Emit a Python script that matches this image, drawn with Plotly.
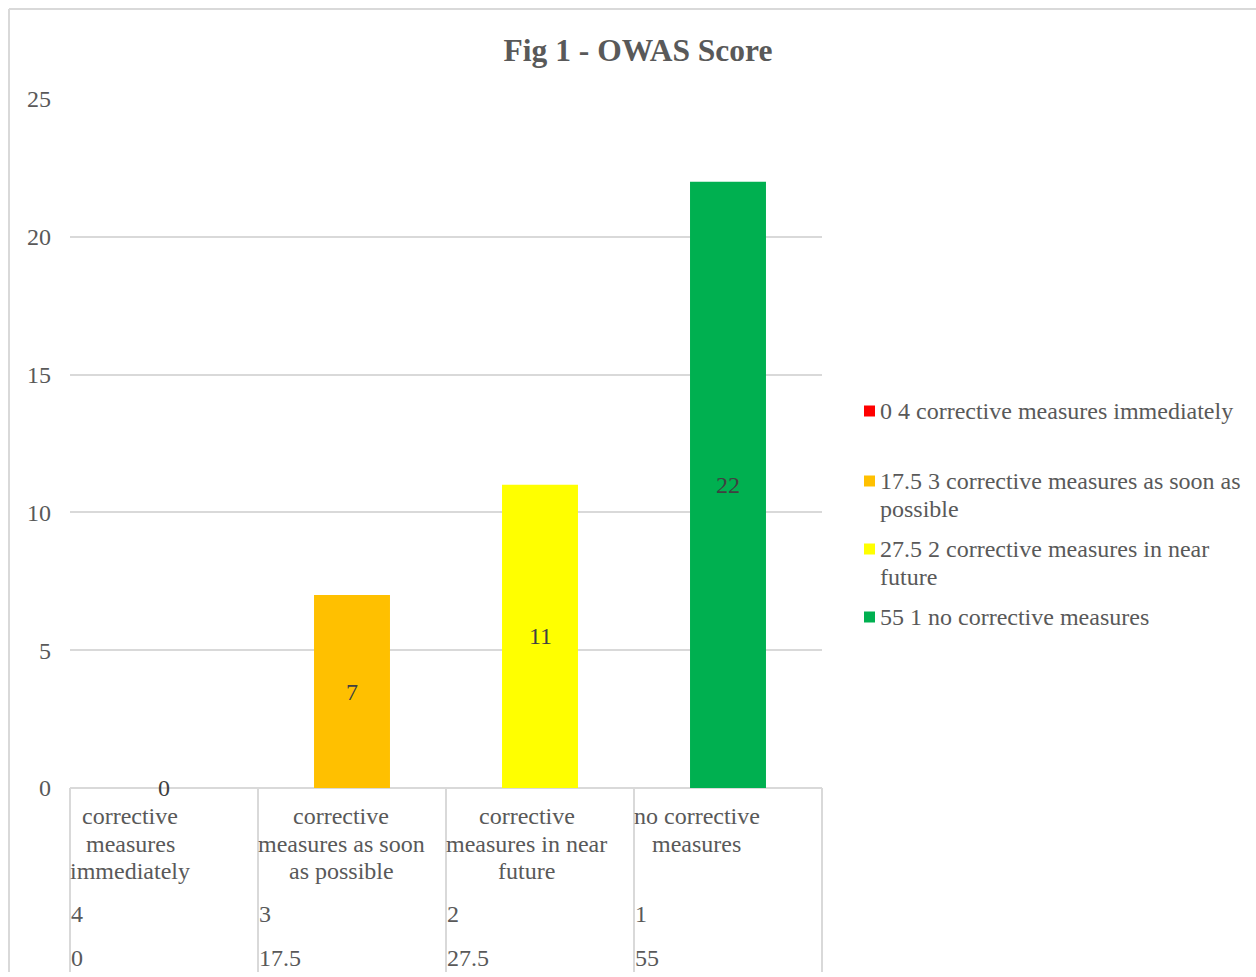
import textwrap
import plotly.graph_objects as go

# OWAS action categories, action codes, share of postures (%) and counts
categories = [
    "corrective measures immediately",
    "corrective measures as soon as possible",
    "corrective measures in near future",
    "no corrective measures",
]
action_codes = ["4", "3", "2", "1"]
percentages = ["0", "17.5", "27.5", "55"]
counts = [0, 7, 11, 22]
bar_colors = ["#FF0000", "#FFC000", "#FFFF00", "#00B050"]

FONT = "Liberation Serif"
GREY = "#595959"
GRID = "#d9d9d9"
FS = 24

# Times-metric advance widths (em/1000), used to centre wrapped label blocks
ADV = {" ": 250, "a": 444, "b": 500, "c": 444, "d": 500, "e": 444, "f": 333, "g": 500,
       "h": 500, "i": 278, "l": 278, "m": 778, "n": 500, "o": 500, "p": 500, "r": 333,
       "s": 389, "t": 278, "u": 500, "v": 500, "y": 500}


def text_width(s, size):
    return sum(ADV.get(ch, 500) for ch in s) * size / 1000


# plot area in pixels
W_PX, H_PX = 1256, 977
L, R, T, B = 70, 822, 99, 788


def px_x(px):
    return (px - L) / (R - L)


def px_y(py):
    return (B - py) / (B - T)


fig = go.Figure()
for cat, n, col in zip(categories, counts, bar_colors):
    fig.add_trace(go.Bar(x=[cat], y=[n], marker=dict(color=col, line_width=0),
                         width=0.404, showlegend=False, hoverinfo="x+y"))

annotations = []
shapes = []

# value labels centred in each bar
for cat, n in zip(categories, counts):
    annotations.append(dict(x=cat, y=n / 2, xref="x", yref="y", text=str(n),
                            showarrow=False, font=dict(family=FONT, size=FS, color="#404040"),
                            xanchor="center", yanchor="middle"))

# multi-level category axis: wrapped names, action codes, percentages
line_step = 27.5
n_cat = len(categories)
cell_px = (R - L) / n_cat
for i, cat in enumerate(categories):
    lines = textwrap.wrap(cat, 16)
    block_w = max(text_width(l, FS) for l in lines)
    cx = L + i * cell_px + block_w / 2
    for k, line in enumerate(lines):
        annotations.append(dict(x=px_x(cx), y=px_y(816 + k * line_step),
                                xref="paper", yref="paper", text=line, showarrow=False,
                                xanchor="center", yanchor="middle", borderpad=0,
                                font=dict(family=FONT, size=FS, color=GREY)))
    annotations.append(dict(x=i / n_cat, y=px_y(914), xref="paper", yref="paper",
                            text=action_codes[i], showarrow=False, xanchor="left",
                            yanchor="middle", borderpad=0,
                            font=dict(family=FONT, size=FS, color=GREY)))
    annotations.append(dict(x=i / n_cat, y=px_y(958), xref="paper", yref="paper",
                            text=percentages[i], showarrow=False, xanchor="left",
                            yanchor="middle", borderpad=0,
                            font=dict(family=FONT, size=FS, color=GREY)))

# cell dividers below the axis
for i in range(n_cat + 1):
    shapes.append(dict(type="line", xref="paper", yref="paper",
                       x0=i / n_cat, x1=i / n_cat, y0=0, y1=px_y(972),
                       line=dict(color=GRID, width=2)))

# legend drawn beside the plot
legend_first_line = [411, 481, 549, 617]
for cat, code, pct, col, y0 in zip(categories, action_codes, percentages, bar_colors,
                                   legend_first_line):
    label_lines = textwrap.wrap(f"{pct} {code} {cat}", 37)
    shapes.append(dict(type="rect", xref="paper", yref="paper",
                       x0=px_x(864), x1=px_x(875), y0=px_y(y0 - 5.5), y1=px_y(y0 + 5.5),
                       fillcolor=col, line_width=0))
    for k, line in enumerate(label_lines):
        annotations.append(dict(x=px_x(879), y=px_y(y0 + k * 28), xref="paper", yref="paper",
                                text=line, showarrow=False, xanchor="left",
                                yanchor="middle", borderpad=0,
                                font=dict(family=FONT, size=FS, color=GREY)))

# chart frame (top and left edges)
shapes.append(dict(type="line", xref="paper", yref="paper",
                   x0=px_x(9), x1=px_x(1262), y0=px_y(9), y1=px_y(9),
                   line=dict(color=GRID, width=2)))
shapes.append(dict(type="line", xref="paper", yref="paper",
                   x0=px_x(9), x1=px_x(9), y0=px_y(9), y1=px_y(972),
                   line=dict(color=GRID, width=2)))

fig.update_layout(
    width=W_PX, height=H_PX,
    margin=dict(l=L, r=W_PX - R, t=T, b=H_PX - B, pad=0),
    paper_bgcolor="white", plot_bgcolor="white",
    barmode="overlay",
    title=dict(text="<b>Fig 1 - OWAS Score</b>", xref="container", yref="container",
               x=638 / W_PX, y=1 - 50 / H_PX, xanchor="center", yanchor="middle",
               font=dict(family=FONT, size=31.5, color=GREY)),
    xaxis=dict(type="category", categoryarray=categories, showticklabels=False,
               showgrid=False, showline=False, zeroline=False, ticks=""),
    yaxis=dict(range=[0, 25], tickvals=[0, 5, 10, 15, 20, 25], showgrid=True,
               gridcolor=GRID, gridwidth=2, zeroline=True, zerolinecolor=GRID,
               zerolinewidth=2, showline=False, ticks="", ticklabelstandoff=18,
               tickfont=dict(family=FONT, size=FS, color=GREY)),
    annotations=annotations,
    shapes=shapes,
    showlegend=False,
)

fig.write_html("out.html")
